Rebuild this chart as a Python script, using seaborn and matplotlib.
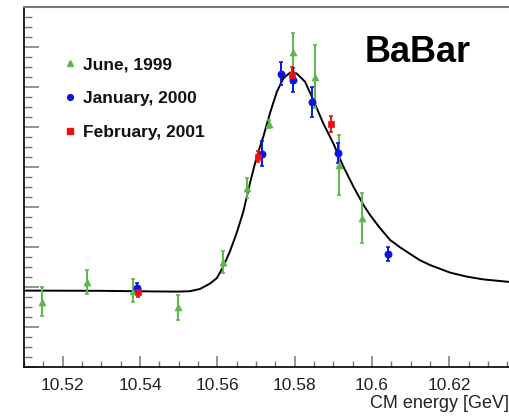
import matplotlib
matplotlib.use("Agg")
import matplotlib.pyplot as plt
from matplotlib.lines import Line2D
from matplotlib.ticker import MultipleLocator, FuncFormatter
import pandas as pd
import seaborn as sns

# June 1999 scan
june_x = [10.5146, 10.5262, 10.5381, 10.5499, 10.5615, 10.5676, 10.5734, 10.5795, 10.5853, 10.5915, 10.5973]
june_y = [1.63, 2.13, 1.91, 1.49, 2.63, 4.47, 6.07, 7.88, 7.26, 5.05, 3.72]
june_err = [0.36, 0.30, 0.28, 0.31, 0.27, 0.25, 0.10, 0.47, 0.78, 0.74, 0.63]

# January 2000 scan
jan_x = [10.5391, 10.5715, 10.5764, 10.5795, 10.5846, 10.5913, 10.6041]
jan_y = [1.98, 5.33, 7.33, 7.18, 6.63, 5.36, 2.83]
jan_err = [0.13, 0.31, 0.29, 0.30, 0.375, 0.25, 0.17]

# February 2001 scan
feb_x = [10.5396, 10.5704, 10.5792, 10.5893]
feb_y = [1.88, 5.26, 7.30, 6.07]
feb_err = [0.12, 0.14, 0.21, 0.20]

# Fitted line shape
fit_x = [10.5100, 10.5296, 10.5426, 10.5498, 10.5529, 10.5555, 10.5581, 10.5599,
         10.5616, 10.5633, 10.5650, 10.5667, 10.5685, 10.5702, 10.5719, 10.5736,
         10.5754, 10.5771, 10.5788, 10.5805, 10.5827, 10.5848, 10.5874, 10.5900,
         10.5926, 10.5952, 10.5978, 10.5995, 10.6021, 10.6047, 10.6073, 10.6099,
         10.6124, 10.6150, 10.6176, 10.6202, 10.6245, 10.6288, 10.6331, 10.6357]
fit_y = [1.91, 1.905, 1.89, 1.885, 1.895, 1.95, 2.085, 2.225,
         2.525, 2.90, 3.35, 3.875, 4.62, 5.26, 5.76, 6.34,
         6.88, 7.22, 7.36, 7.34, 7.13, 6.68, 6.09, 5.59,
         5.01, 4.51, 4.05, 3.80, 3.47, 3.175, 2.99, 2.825,
         2.67, 2.55, 2.455, 2.36, 2.26, 2.19, 2.15, 2.125]

x_ticks = [10.52, 10.54, 10.56, 10.58, 10.60, 10.62]

sns.set_style("white")
plt.rcParams["font.family"] = ["Liberation Sans", "DejaVu Sans"]

W, H = 510, 417
fig = plt.figure(figsize=(W / 100, H / 100), dpi=100)
ax = fig.add_axes([24 / W, (H - 367) / H, (W - 24) / W, 360 / H])

fit = pd.DataFrame({"E": fit_x, "sigma": fit_y})
sns.lineplot(data=fit, x="E", y="sigma", ax=ax, color="black", lw=1.4,
             sort=False, zorder=2)

series = [
    ("June, 1999", june_x, june_y, june_err, "#5cb84a", "^", 5.0),
    ("January, 2000", jan_x, jan_y, jan_err, "#0a14e6", "o", 5.2),
    ("February, 2001", feb_x, feb_y, feb_err, "#ee1010", "s", 5.0),
]
handles = []
for label, xs, ys, es, col, mk, ms in series:
    ax.errorbar(xs, ys, yerr=es, fmt="none", ecolor=col, elinewidth=1.4,
                capsize=1.6, capthick=1.2, zorder=3)
    df = pd.DataFrame({"E": xs, "sigma": ys})
    sns.scatterplot(data=df, x="E", y="sigma", ax=ax, marker=mk, s=ms ** 2,
                    color=col, edgecolor=col, linewidth=0.5, zorder=4)
    handles.append(Line2D([], [], ls="none", marker=mk, color=col,
                          markersize=ms * 0.8, label=label))

ax.set_xlim(10.51, 10.6357)
ax.set_ylim(0, 9)
ax.xaxis.set_major_locator(MultipleLocator(0.02))
ax.xaxis.set_minor_locator(MultipleLocator(0.005))
ax.yaxis.set_major_locator(MultipleLocator(1))
ax.yaxis.set_minor_locator(MultipleLocator(0.25))
ax.set_xticks(x_ticks)
ax.xaxis.set_major_formatter(FuncFormatter(lambda v, p: f"{v:g}"))
ax.set_yticklabels([])
ax.tick_params(axis="x", which="major", direction="in", length=8, width=1.1,
               color="#777777", labelsize=12.5, pad=8, bottom=True)
ax.tick_params(axis="x", which="minor", direction="in", length=4.5, width=1.0,
               color="#777777", bottom=True)
ax.tick_params(axis="y", which="major", direction="in", length=11, width=1.1,
               color="#777777", left=True)
ax.tick_params(axis="y", which="minor", direction="in", length=6, width=1.0,
               color="#777777", left=True)
for lab in ax.get_xticklabels():
    lab.set_color("#222222")

ax.spines["right"].set_visible(False)
ax.spines["top"].set_color("#777777")
ax.spines["top"].set_linewidth(1.5)
ax.spines["left"].set_color("black")
ax.spines["left"].set_linewidth(1.2)
ax.spines["bottom"].set_color("black")
ax.spines["bottom"].set_linewidth(1.2)
ax.set_xlabel("")
ax.set_ylabel("")

fig.text(509 / W, 1 - 403 / H, "CM energy [GeV]", ha="right", va="center",
         fontsize=13, color="#222222")
fig.text(418 / W, 1 - 53 / H, "BaBar", ha="center", va="center",
         fontsize=26, fontweight="bold", color="black")

leg = ax.legend(handles=handles, loc="upper left",
                bbox_to_anchor=(64 / W, 1 - 57 / H), bbox_transform=fig.transFigure,
                frameon=False, prop={"size": 12.5, "weight": "bold"},
                handlelength=0.7, handletextpad=0.4, labelspacing=1.07,
                borderaxespad=0, borderpad=0)
for t in leg.get_texts():
    t.set_color("#111111")

fig.savefig("out.png", dpi=100)
